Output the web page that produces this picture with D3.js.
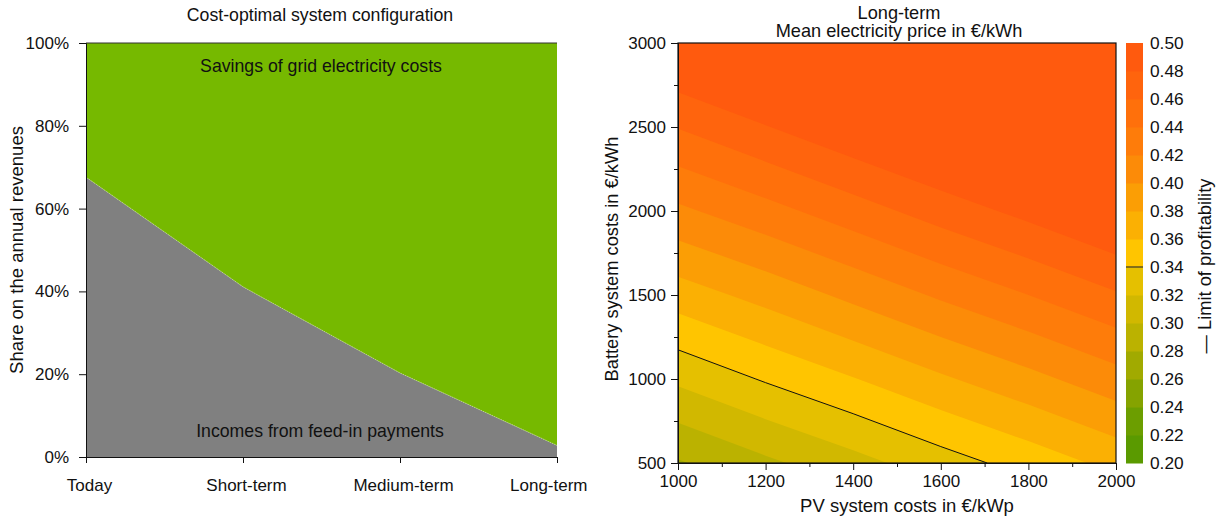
<!DOCTYPE html>
<html>
<head>
<meta charset="utf-8">
<script src="https://cdn.jsdelivr.net/npm/d3@7"></script>
<style>
  body { margin: 0; background: #fff; }
  text { font-family: "Liberation Sans", Arial, sans-serif; fill: #111; }
</style>
</head>
<body>
<div id="chart"></div>
<script>
/* Two panels: stacked revenue shares + contour of mean electricity price */

// left panel data (% of annual revenues)
const categories = ["Today", "Short-term", "Medium-term", "Long-term"];
const feedIn = [67.6, 41.1, 20.3, 2.8];
const savings = [32.4, 58.9, 79.7, 97.2];
const shareTicks = [0, 20, 40, 60, 80, 100];

// right panel data (price in €/kWh on a coarse grid)
const pvCosts = [1000, 1200, 1400, 1600, 1800, 2000];
const batteryCosts = [500, 1000, 1500, 2000, 2500, 3000];
const priceGrid = [
  [0.278, 0.296, 0.313, 0.331, 0.348, 0.366], // 500
  [0.324, 0.342, 0.359, 0.377, 0.394, 0.412], // 1000
  [0.370, 0.387, 0.405, 0.423, 0.440, 0.458], // 1500
  [0.416, 0.433, 0.451, 0.469, 0.486, 0.504], // 2000
  [0.461, 0.479, 0.497, 0.514, 0.532, 0.549], // 2500
  [0.507, 0.525, 0.543, 0.560, 0.578, 0.595]  // 3000
];
const levels = [0.20, 0.22, 0.24, 0.26, 0.28, 0.30, 0.32, 0.34, 0.36, 0.38, 0.40, 0.42, 0.44, 0.46, 0.48, 0.50];
const bandColors = ["#5a9a00", "#6c9e00", "#85a300", "#a1aa00", "#bbb200", "#d1b800", "#e5c000",
  "#ffc500", "#fbb003", "#fb9e05", "#fc8b08", "#fe7c0a", "#ff700b", "#ff640d", "#ff5a0e"];
const profitLimit = 0.34;

const width = 1226, height = 516;

const svg = d3.select("#chart")
  .append("svg")
  .attr("width", width)
  .attr("height", height);

// ---------- left panel ----------
const L = { left: 86, right: 557, top: 43, bottom: 457 };

const x = d3.scalePoint()
  .domain(categories)
  .range([L.left, L.right]);

const y = d3.scaleLinear()
  .domain([0, 100])
  .range([L.bottom, L.top]);

const rows = categories.map((c, i) => ({ cat: c, feedIn: feedIn[i], savings: savings[i] }));
const stack = d3.stack().keys(["feedIn", "savings"])(rows);
const areaColors = { feedIn: "#808080", savings: "#76b900" };

const area = d3.area()
  .x(d => x(d.data.cat))
  .y0(d => y(d[0]))
  .y1(d => y(d[1]));

svg.append("g")
  .selectAll("path")
  .data(stack)
  .join("path")
  .attr("d", area)
  .attr("fill", d => areaColors[d.key]);

// faint light seam between the two areas
svg.append("path")
  .datum(rows)
  .attr("d", d3.line().x(d => x(d.cat)).y(d => y(d.feedIn)))
  .attr("fill", "none")
  .attr("stroke", "#d8e6c0")
  .attr("stroke-width", 0.6)
  .attr("stroke-dasharray", "1,1");

svg.append("line")
  .attr("x1", L.left).attr("x2", L.right)
  .attr("y1", y(100)).attr("y2", y(100))
  .attr("stroke", "#333").attr("stroke-width", 1);

const yAxisL = svg.append("g")
  .attr("transform", `translate(${L.left},0)`)
  .call(d3.axisLeft(y).tickValues(shareTicks).tickSize(7).tickPadding(10).tickFormat(d => d + "%"));

const xAxisL = svg.append("g")
  .attr("transform", `translate(0,${L.bottom})`)
  .call(d3.axisBottom(x).tickSize(6).tickPadding(16));

svg.append("text")
  .attr("x", 320).attr("y", 21)
  .attr("text-anchor", "middle")
  .attr("font-size", 17.7)
  .text("Cost-optimal system configuration");

svg.append("text")
  .attr("transform", `translate(23,${(L.top + L.bottom) / 2}) rotate(-90)`)
  .attr("text-anchor", "middle")
  .attr("font-size", 18.5)
  .text("Share on the annual revenues");

svg.append("text")
  .attr("x", 321).attr("y", 72)
  .attr("text-anchor", "middle")
  .attr("font-size", 17.7)
  .text("Savings of grid electricity costs");

svg.append("text")
  .attr("x", 320).attr("y", 437)
  .attr("text-anchor", "middle")
  .attr("font-size", 17.7)
  .text("Incomes from feed-in payments");

// ---------- right panel ----------
const R = { left: 678, right: 1116, top: 43, bottom: 463 };

const px = d3.scaleLinear()
  .domain([1000, 2000])
  .range([R.left, R.right]);

const py = d3.scaleLinear()
  .domain([500, 3000])
  .range([R.bottom, R.top]);

svg.append("defs").append("clipPath")
  .attr("id", "plot-clip")
  .append("rect")
  .attr("x", R.left).attr("y", R.top)
  .attr("width", R.right - R.left).attr("height", R.bottom - R.top);

// grid index space -> data -> pixels (d3.contours puts sample i at i + 0.5)
const gx = d3.scaleLinear().domain([0.5, pvCosts.length - 0.5]).range([px(pvCosts[0]), px(pvCosts[pvCosts.length - 1])]);
const gy = d3.scaleLinear().domain([0.5, batteryCosts.length - 0.5]).range([py(batteryCosts[0]), py(batteryCosts[batteryCosts.length - 1])]);

const project = d3.geoTransform({
  point: function(a, b) { this.stream.point(gx(a), gy(b)); }
});
const path = d3.geoPath(project);

const flat = priceGrid.flat();

const bands = d3.contours()
  .size([pvCosts.length, batteryCosts.length])
  .thresholds(levels.slice(0, bandColors.length))(flat);

const plot = svg.append("g").attr("clip-path", "url(#plot-clip)");

plot.append("rect")
  .attr("x", R.left).attr("y", R.top)
  .attr("width", R.right - R.left).attr("height", R.bottom - R.top)
  .attr("fill", bandColors[0]);

plot.selectAll("path.band")
  .data(bands)
  .join("path")
  .attr("class", "band")
  .attr("d", path)
  .attr("fill", (d, i) => bandColors[i]);

const limit = d3.contours()
  .size([pvCosts.length, batteryCosts.length])
  .thresholds([profitLimit])(flat);

plot.selectAll("path.limit")
  .data(limit)
  .join("path")
  .attr("class", "limit")
  .attr("d", path)
  .attr("fill", "none")
  .attr("stroke", "#111")
  .attr("stroke-width", 1);

svg.append("rect")
  .attr("x", R.left).attr("y", R.top)
  .attr("width", R.right - R.left).attr("height", R.bottom - R.top)
  .attr("fill", "none").attr("stroke", "#111").attr("stroke-width", 1.2);

const xAxisR = svg.append("g")
  .attr("transform", `translate(0,${R.bottom})`)
  .call(d3.axisBottom(px).tickValues(d3.range(1000, 2001, 200)).tickSize(7).tickPadding(5).tickFormat(d3.format("d")));

svg.append("g")
  .attr("transform", `translate(0,${R.bottom})`)
  .call(d3.axisBottom(px).tickValues([1100, 1300, 1500, 1700, 1900]).tickSize(4).tickFormat(""));

const yAxisR = svg.append("g")
  .attr("transform", `translate(${R.left},0)`)
  .call(d3.axisLeft(py).tickValues(d3.range(500, 3001, 500)).tickSize(7).tickPadding(5).tickFormat(d3.format("d")));

svg.append("g")
  .attr("transform", `translate(${R.left},0)`)
  .call(d3.axisLeft(py).tickValues([750, 1250, 1750, 2250, 2750]).tickSize(4).tickFormat(""));

svg.append("text")
  .attr("x", (R.left + R.right) / 2 + 2).attr("y", 19)
  .attr("text-anchor", "middle")
  .attr("font-size", 18.2)
  .text("Long-term");

svg.append("text")
  .attr("x", (R.left + R.right) / 2 + 2).attr("y", 37)
  .attr("text-anchor", "middle")
  .attr("font-size", 18.2)
  .text("Mean electricity price in €/kWh");

svg.append("text")
  .attr("x", (R.left + R.right) / 2 + 10).attr("y", 512)
  .attr("text-anchor", "middle")
  .attr("font-size", 18.5)
  .text("PV system costs in €/kWp");

svg.append("text")
  .attr("transform", `translate(618,${(R.top + R.bottom) / 2 + 6}) rotate(-90)`)
  .attr("text-anchor", "middle")
  .attr("font-size", 18.3)
  .text("Battery system costs in €/kWh");

// ---------- colour bar ----------
const cb = { left: 1126, width: 17 };
const cy = d3.scaleLinear()
  .domain([levels[0], levels[levels.length - 1]])
  .range([R.bottom, R.top]);

svg.append("g")
  .selectAll("rect")
  .data(bandColors)
  .join("rect")
  .attr("x", cb.left)
  .attr("width", cb.width)
  .attr("y", (d, i) => cy(levels[i + 1]))
  .attr("height", (d, i) => cy(levels[i]) - cy(levels[i + 1]) + 0.5)
  .attr("fill", d => d);

svg.append("line")
  .attr("x1", cb.left).attr("x2", cb.left + cb.width)
  .attr("y1", cy(profitLimit)).attr("y2", cy(profitLimit))
  .attr("stroke", "#5a5020").attr("stroke-width", 1.5);

svg.append("g")
  .selectAll("text")
  .data(levels)
  .join("text")
  .attr("x", 1150)
  .attr("y", d => cy(d))
  .attr("dy", "0.36em")
  .attr("font-size", 17.3)
  .text(d => d.toFixed(2));

svg.append("text")
  .attr("transform", `translate(1211,266) rotate(-90)`)
  .attr("text-anchor", "middle")
  .attr("font-size", 18.3)
  .text("— Limit of profitability");

// axis styling
svg.selectAll(".tick text").attr("fill", "#111")
  .style("font-family", "'Liberation Sans', Arial, sans-serif");
svg.selectAll(".domain, .tick line").attr("stroke", "#111");
xAxisL.selectAll(".tick text").attr("font-size", 17);
yAxisL.selectAll(".tick text").attr("font-size", 17);
xAxisR.selectAll(".tick text").attr("font-size", 17);
yAxisR.selectAll(".tick text").attr("font-size", 17);

// keep the last category label inside the panel
xAxisL.selectAll(".tick text").each(function(d) {
  const w = this.getComputedTextLength();
  const cx = Math.min(x(d) + 3, 587 - w / 2);
  d3.select(this).attr("x", cx - x(d));
});
</script>
</body>
</html>
